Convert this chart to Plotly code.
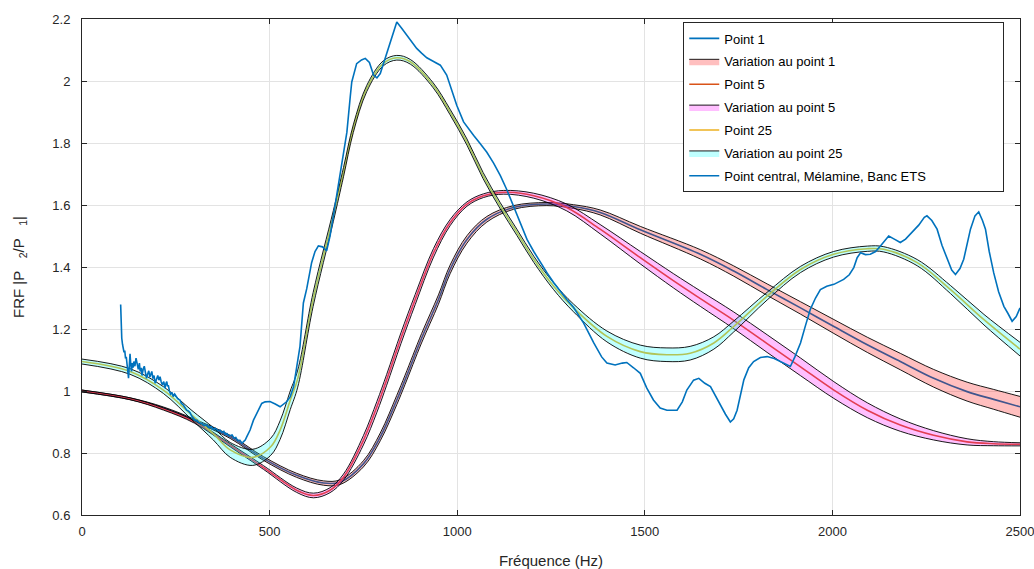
import plotly.graph_objects as go

# ---------------- data ----------------
p1_freq = [0, 128, 217, 300, 395, 484, 572, 644, 688, 750, 795, 839, 861, 905, 950, 981, 1026, 1079,
           1150, 1239, 1310, 1381, 1488, 1648, 1737, 1826, 1915, 2004, 2093, 2181, 2270, 2359, 2430, 2500]
p1_val = [1.0, 0.975, 0.945, 0.905, 0.852, 0.782, 0.728, 0.703, 0.706, 0.765, 0.852, 0.971, 1.036, 1.17,
          1.295, 1.392, 1.489, 1.554, 1.592, 1.603, 1.595, 1.576, 1.52, 1.441, 1.387, 1.327, 1.268, 1.208,
          1.149, 1.095, 1.041, 0.998, 0.973, 0.949]
p1_width = [0.006, 0.006, 0.007, 0.008, 0.01, 0.012, 0.013, 0.014, 0.015, 0.02, 0.025, 0.03, 0.03, 0.03,
            0.03, 0.028, 0.024, 0.018, 0.012, 0.01, 0.012, 0.016, 0.022, 0.03, 0.033, 0.037, 0.04, 0.045,
            0.049, 0.053, 0.057, 0.061, 0.064, 0.067]

p5_freq = [0, 128, 217, 300, 395, 484, 572, 617, 661, 697, 750, 786, 812, 850, 888, 937, 981, 1026, 1070,
           1124, 1204, 1292, 1381, 1488, 1577, 1648, 1737, 1826, 1915, 2004, 2093, 2181, 2270, 2359, 2430, 2500]
p5_val = [1.0, 0.975, 0.942, 0.9, 0.825, 0.753, 0.68, 0.663, 0.68, 0.722, 0.841, 0.949, 1.036, 1.17, 1.295,
          1.446, 1.543, 1.603, 1.63, 1.641, 1.63, 1.592, 1.522, 1.43, 1.355, 1.298, 1.228, 1.153, 1.078, 1.003,
          0.938, 0.89, 0.857, 0.836, 0.83, 0.828]
p5_width = [0.006, 0.006, 0.007, 0.008, 0.01, 0.012, 0.014, 0.015, 0.016, 0.02, 0.03, 0.035, 0.035, 0.035,
            0.033, 0.028, 0.02, 0.014, 0.012, 0.012, 0.016, 0.022, 0.03, 0.04, 0.046, 0.05, 0.054, 0.057,
            0.057, 0.054, 0.048, 0.04, 0.03, 0.02, 0.013, 0.01]

p25_freq = [0, 128, 217, 293, 350, 395, 455, 503, 528, 555, 575, 616, 670, 697, 723, 759, 803, 839, 875, 936,
            981, 1026, 1069, 1115, 1159, 1204, 1257, 1310, 1399, 1488, 1559, 1621, 1684, 1737, 1826, 1915,
            2003, 2093, 2137, 2226, 2315, 2404, 2500]
p25_val = [1.095, 1.063, 1.003, 0.922, 0.862, 0.81, 0.786, 0.82, 0.874, 0.97, 1.04, 1.295, 1.565, 1.706,
           1.846, 1.976, 2.057, 2.075, 2.062, 1.986, 1.90, 1.803, 1.695, 1.597, 1.512, 1.425, 1.338, 1.268,
           1.176, 1.127, 1.117, 1.122, 1.155, 1.208, 1.306, 1.392, 1.441, 1.459, 1.457, 1.414, 1.327, 1.23, 1.135]
p25_width = [0.016, 0.018, 0.022, 0.03, 0.04, 0.048, 0.052, 0.055, 0.06, 0.06, 0.055, 0.045, 0.035, 0.03,
             0.025, 0.02, 0.016, 0.015, 0.015, 0.016, 0.018, 0.02, 0.02, 0.02, 0.02, 0.02, 0.022, 0.025,
             0.035, 0.042, 0.044, 0.044, 0.04, 0.035, 0.025, 0.02, 0.018, 0.017, 0.017, 0.02, 0.026, 0.034, 0.044]

meas_freq = [103, 104, 106, 108, 110, 112, 114, 116, 118, 120, 122, 124, 126, 128, 130, 132, 134, 136, 138,
             141, 144, 147, 150, 153, 155, 158, 160, 163, 166, 169, 172, 175, 178, 181, 184, 186, 189, 192,
             195, 198, 202, 205, 208, 211, 214, 218, 221, 224, 226, 228, 230, 233, 236, 240, 243, 247, 250,
             255, 261, 265, 270, 274, 279, 284, 288, 292, 297, 302, 306, 312, 320, 326, 332, 338, 345, 350,
             355, 362, 368, 373, 378, 382, 386, 392, 400, 405, 410, 415, 421, 426, 430, 435, 439,
             448, 457, 466, 479, 488, 501, 515, 528, 546, 555, 564,
             572, 581, 590, 599, 612, 621, 630, 641, 652, 661, 670, 688, 697, 706, 715, 719, 732, 745, 755,
             766, 777, 786, 795, 808, 820, 830, 839, 852, 866, 879, 892, 905, 919, 937, 955, 972, 985, 999,
             1017, 1030, 1044, 1060, 1079, 1097, 1115, 1132, 1150, 1168, 1186, 1204, 1221, 1240, 1257, 1275,
             1292, 1310, 1337, 1364, 1385, 1399, 1421, 1440, 1452, 1470, 1488, 1505, 1523, 1541, 1559, 1586,
             1600, 1612, 1630, 1644, 1660, 1675, 1690, 1701, 1715, 1728, 1737, 1746, 1755, 1764, 1777, 1790,
             1808, 1826, 1845, 1861, 1875, 1888, 1900, 1915, 1928, 1941, 1955, 1968, 1985, 2004, 2030, 2045,
             2057, 2066, 2075, 2088, 2101, 2115, 2128, 2140, 2150, 2165, 2181, 2195, 2208, 2230, 2245, 2252,
             2265, 2279, 2292, 2306, 2318, 2328, 2340, 2350, 2360, 2368, 2380, 2390, 2400, 2408, 2418, 2430,
             2443, 2457, 2468, 2479, 2490, 2500]
meas_val = [1.279, 1.20, 1.17, 1.15, 1.138, 1.125, 1.13, 1.105, 1.11, 1.09, 1.07, 1.041, 1.08, 1.12, 1.085,
            1.063, 1.09, 1.075, 1.095, 1.08, 1.106, 1.085, 1.07, 1.09, 1.063, 1.075, 1.05, 1.07, 1.08, 1.06,
            1.041, 1.055, 1.065, 1.045, 1.06, 1.063, 1.04, 1.05, 1.025, 1.04, 1.05, 1.035, 1.046, 1.03, 1.02,
            1.03, 1.009, 1.025, 1.03, 1.015, 1.019, 1.0, 0.99, 0.995, 0.982, 0.99, 0.985, 0.975, 0.971, 0.96,
            0.955, 0.945, 0.938, 0.935, 0.93, 0.92, 0.912, 0.905, 0.906, 0.898, 0.895, 0.888, 0.89, 0.882,
            0.885, 0.876, 0.88, 0.872, 0.874, 0.866, 0.87, 0.86, 0.863, 0.855, 0.858, 0.848, 0.85, 0.84,
            0.841, 0.832, 0.836, 0.842, 0.852,
            0.874, 0.906, 0.928, 0.96, 0.965, 0.966, 0.958, 0.949, 0.966, 0.982,
            1.014, 1.079, 1.144, 1.284, 1.33, 1.414, 1.45, 1.468, 1.465, 1.452, 1.5, 1.565, 1.695, 1.76,
            1.835, 1.95, 1.997, 2.056, 2.068, 2.073, 2.06, 2.019, 2.01, 2.024, 2.073, 2.12, 2.16, 2.19,
            2.17, 2.148, 2.125, 2.105, 2.09, 2.075, 2.063, 2.051, 2.019, 1.97, 1.921, 1.868, 1.845, 1.824,
            1.8, 1.77, 1.735, 1.695, 1.65, 1.597, 1.54, 1.489, 1.45, 1.415, 1.38, 1.35, 1.32, 1.295, 1.27,
            1.219, 1.155, 1.11, 1.09, 1.084, 1.09, 1.092, 1.075, 1.057, 1.01, 0.971, 0.945, 0.938, 0.938,
            0.965, 1.003, 1.035, 1.041, 1.025, 1.014, 0.98, 0.96, 0.925, 0.90, 0.91, 0.938, 0.99, 1.036,
            1.075, 1.095, 1.108, 1.111, 1.105, 1.095, 1.085, 1.079, 1.11, 1.155, 1.21, 1.263, 1.3, 1.327,
            1.338, 1.344, 1.36, 1.375, 1.398, 1.43, 1.446, 1.44, 1.441, 1.45, 1.468, 1.485, 1.5, 1.49,
            1.479, 1.49, 1.506, 1.535, 1.56, 1.565, 1.55, 1.522, 1.47, 1.425, 1.39, 1.376, 1.395, 1.425,
            1.48, 1.522, 1.565, 1.578, 1.55, 1.522, 1.45, 1.381, 1.32, 1.273, 1.25, 1.225, 1.24, 1.268]

x_ticks = [0, 500, 1000, 1500, 2000, 2500]
y_ticks = [0.6, 0.8, 1.0, 1.2, 1.4, 1.6, 1.8, 2.0, 2.2]

# ---------------- figure ----------------
FONT = "Liberation Sans, Arial, sans-serif"
fig = go.Figure()

series = [
    ("Point 1", "Variation au point 1", p1_freq, p1_val, p1_width, "#0072BD", "rgba(255,0,0,0.25)"),
    ("Point 5", "Variation au point 5", p5_freq, p5_val, p5_width, "#D95319", "rgba(255,0,255,0.25)"),
    ("Point 25", "Variation au point 25", p25_freq, p25_val, p25_width, "#EDB120", "rgba(0,255,255,0.25)"),
]

for i, (lname, bname, f, v, w, lc, fc) in enumerate(series):
    lower = [a - b / 2 for a, b in zip(v, w)]
    upper = [a + b / 2 for a, b in zip(v, w)]
    fig.add_trace(go.Scatter(x=f, y=v, mode="lines", name=lname, legendgroup=f"l{i}",
                             line=dict(color=lc, width=1.6, shape="spline", smoothing=1.0)))
    fig.add_trace(go.Scatter(x=f, y=lower, mode="lines", showlegend=False, legendgroup=f"b{i}",
                             line=dict(color="#000000", width=0.9, shape="spline", smoothing=1.0),
                             hoverinfo="skip"))
    fig.add_trace(go.Scatter(x=f, y=upper, mode="lines", name=bname, legendgroup=f"b{i}",
                             fill="tonexty", fillcolor=fc,
                             line=dict(color="#000000", width=0.9, shape="spline", smoothing=1.0)))

fig.add_trace(go.Scatter(x=meas_freq, y=meas_val, mode="lines",
                         name="Point central, Mélamine, Banc ETS" + "\u00a0" * 20,
                         legendgroup="m", line=dict(color="#0072BD", width=1.6)))

axis_common = dict(
    showline=True, linecolor="#262626", linewidth=1, mirror="ticks",
    ticks="inside", ticklen=5, tickcolor="#262626", tickwidth=1,
    showgrid=True, gridcolor="#e3e3e3", gridwidth=1, zeroline=False,
    tickfont=dict(family=FONT, size=13, color="#262626"),
    ticklabeloverflow="allow", automargin=False,
)

fig.update_layout(
    width=1034, height=569,
    margin=dict(l=82, r=14, t=19, b=54),
    paper_bgcolor="white", plot_bgcolor="white",
    font=dict(family=FONT, size=13, color="#262626"),
    xaxis=dict(range=[0, 2500], tickvals=x_ticks, ticklabelstandoff=4,
               title=dict(text="Fréquence (Hz)", font=dict(family=FONT, size=15, color="#262626"),
                          standoff=20), **axis_common),
    yaxis=dict(range=[0.6, 2.2], tickvals=y_ticks, ticklabelstandoff=8,
               title=dict(text="FRF |P\u00a0\u00a0\u00a0<sub>2</sub>/P\u00a0\u00a0\u00a0<sub>1</sub>|",
                          font=dict(family=FONT, size=15, color="#262626"), standoff=24),
               **axis_common),
    legend=dict(x=0.641, y=0.993, xanchor="left", yanchor="top",
                bgcolor="white", bordercolor="#262626", borderwidth=1,
                font=dict(family=FONT, size=13, color="#000000"),
                itemwidth=30, tracegroupgap=3, traceorder="grouped"),
    showlegend=True,
)

fig.write_html("out.html")
